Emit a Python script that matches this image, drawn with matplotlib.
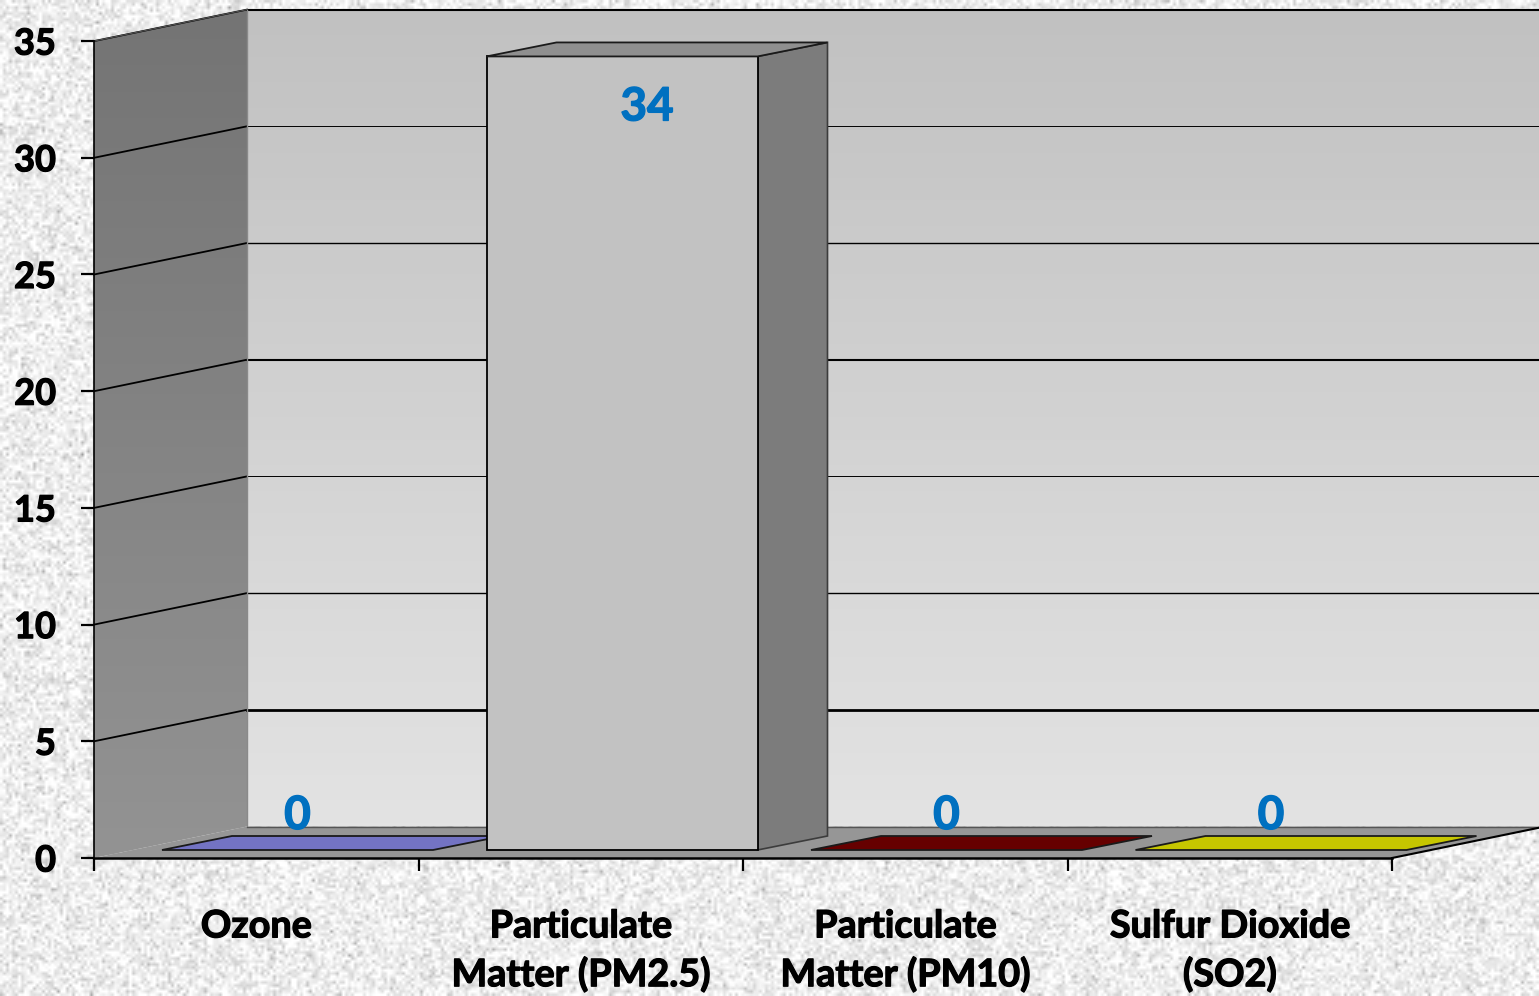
import numpy as np
import matplotlib
matplotlib.use("Agg")
import matplotlib.pyplot as plt
import matplotlib.patheffects as pe
from matplotlib.patches import Polygon
from matplotlib.colors import LinearSegmentedColormap

plt.rcParams['font.family'] = ['Lato', 'DejaVu Sans']

categories = ['Ozone', 'Particulate\nMatter (PM2.5)', 'Particulate\nMatter (PM10)', 'Sulfur Dioxide\n(SO2)']
values = [0, 34, 0, 0]
y_ticks = [0, 5, 10, 15, 20, 25, 30, 35]

# cor da face de cima de cada barra (barra zerada so mostra essa face)
top_colors = ['#7373c3', '#8f8f8f', '#660000', '#c6c600']
grid_widths = [0, 2.0, 1.0, 0.7, 1.5, 1.0, 0.7, 1.5]

W, H = 1539, 996
PX_X = 324.5   # pixels por categoria
PX_Y = 23.34   # pixels por unidade de valor

fig = plt.figure(figsize=(W / 100, H / 100), dpi=100)

# fundo de papel (textura decorativa, nao e dado)
bg = fig.add_axes([0, 0, 1, 1], zorder=-1)
bg.axis('off')
rng = np.random.default_rng(4)
noise = rng.normal(0.93, 0.07, (H // 3, W // 3))
bg.imshow(np.clip(noise, 0, 1), cmap='gray', vmin=0, vmax=1, aspect='auto', interpolation='bilinear')

ax = fig.add_axes([94 / W, (H - 858) / H, 4 * PX_X / W, 35 * PX_Y / H])
ax.patch.set_visible(False)

# profundidade do grafico 3D
depth_x = 153 / PX_X
depth_y = 31.5 / PX_Y
bar_left = 68 / PX_X
bar_w = 271 / PX_X
bar_dx = 70 / PX_X
bar_dy = 14 / PX_Y
bar_base = 8 / PX_Y


def gradient(poly_pts, top, bottom, z):
    cmap = LinearSegmentedColormap.from_list('g', [top, bottom])
    xs = [p[0] for p in poly_pts]
    ys = [p[1] for p in poly_pts]
    im = ax.imshow(np.linspace(0, 1, 256).reshape(-1, 1), cmap=cmap, aspect='auto', zorder=z,
                   extent=[min(xs), max(xs), min(ys), max(ys)])
    # precisa sair da area do eixo
    im.set_clip_box(fig.bbox)
    im.set_clip_path(Polygon(poly_pts, closed=True, transform=ax.transData))


ymax = y_ticks[-1]
xmax = len(categories)

# parede do fundo e parede lateral
back = [(depth_x, depth_y), (xmax + depth_x, depth_y), (xmax + depth_x, ymax + depth_y), (depth_x, ymax + depth_y)]
side = [(0, 0), (depth_x, depth_y), (depth_x, ymax + depth_y), (0, ymax)]
gradient(back, '#c1c1c1', '#e3e3e3', 1)
gradient(side, '#747474', '#939393', 2)

# grades
for v, lw in zip(y_ticks[1:], grid_widths[1:]):
    ax.plot([depth_x, xmax + depth_x], [v + depth_y, v + depth_y], color='black', lw=lw, clip_on=False, zorder=3)
    ax.plot([0, depth_x], [v, v + depth_y], color='black', lw=1.3, clip_on=False, zorder=3)
ax.plot([0, depth_x], [ymax, ymax + depth_y], color='#555555', lw=0.8, clip_on=False, zorder=3)
ax.plot([depth_x, depth_x], [depth_y, ymax + depth_y], color='#8a8a8a', lw=1.0, clip_on=False, zorder=3)

# chao
floor = [(0, 0), (xmax, 0), (xmax + depth_x, depth_y), (depth_x, depth_y)]
ax.add_patch(Polygon(floor, closed=True, fc='#969696', ec='none', clip_on=False, zorder=4))
ax.plot([depth_x, xmax + depth_x], [depth_y, depth_y], color='#555555', lw=1.0, clip_on=False, zorder=4)
ax.plot([xmax, xmax + depth_x], [0, depth_y], color='black', lw=1.5, clip_on=False, zorder=4)

# barras
for i, (val, tc) in enumerate(zip(values, top_colors)):
    x0 = i + bar_left
    x1 = x0 + bar_w
    y0 = bar_base
    y1 = bar_base + val
    z = 5 + i
    if val > 0:
        ax.add_patch(Polygon([(x1, y0), (x1 + bar_dx, y0 + bar_dy), (x1 + bar_dx, y1 + bar_dy), (x1, y1)],
                             closed=True, fc='#7c7c7c', ec='#3c3c3c', lw=1.2, clip_on=False, zorder=z))
        ax.add_patch(Polygon([(x0, y0), (x1, y0), (x1, y1), (x0, y1)],
                             closed=True, fc='#c2c2c2', ec='black', lw=1.3, clip_on=False, zorder=z))
    ax.add_patch(Polygon([(x0, y1), (x1, y1), (x1 + bar_dx, y1 + bar_dy), (x0 + bar_dx, y1 + bar_dy)],
                         closed=True, fc=tc, ec='#1a1a1a', lw=1.3, clip_on=False, zorder=z))

# os rotulos nao ficam no centro da barra igual em todas
label_dx = [0, 25 / PX_X, 0, 0]
label_dy = [38 / PX_Y, -47 / PX_Y, 38 / PX_Y, 38 / PX_Y]
for i, val in enumerate(values):
    t = ax.text(i + bar_left + bar_w / 2 + label_dx[i], bar_base + val + label_dy[i], str(val),
                ha='center', va='center_baseline', fontsize=33, fontweight='bold', color='#0070c0', zorder=20)
    t.set_path_effects([pe.withStroke(linewidth=1.0, foreground='#0070c0')])

ax.set_xlim(0, xmax)
ax.set_ylim(0, ymax)
ax.spines['top'].set_visible(False)
ax.spines['right'].set_visible(False)
ax.spines['left'].set_linewidth(1.2)
ax.spines['bottom'].set_linewidth(1.8)
ax.spines['left'].set_zorder(15)
ax.spines['bottom'].set_zorder(15)

ax.set_yticks(y_ticks)
ax.set_yticklabels([str(v) for v in y_ticks], fontsize=26, fontweight='bold')
ax.tick_params(axis='y', length=9.4, width=1.6, pad=18, color='black')
ax.set_xticks(range(xmax + 1))
ax.set_xticklabels([])
ax.tick_params(axis='x', length=9.0, width=1.6, color='black')
ax.set_xticks([i + 0.5 for i in range(xmax)], minor=True)
ax.set_xticklabels(categories, minor=True, fontsize=27.2, fontweight='bold', linespacing=1.42)
ax.tick_params(axis='x', which='minor', length=0, pad=37)

# Lato bold fica mais fino que o original
for lab in ax.get_yticklabels() + ax.get_xticklabels(minor=True):
    lab.set_path_effects([pe.withStroke(linewidth=0.9, foreground='black')])

fig.savefig('out.png', dpi=100)
